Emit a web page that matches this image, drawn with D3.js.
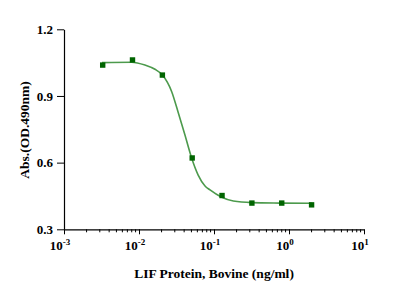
<!DOCTYPE html>
<html>
<head>
<meta charset="utf-8">
<script src="https://cdn.jsdelivr.net/npm/d3@7"></script>
<style>
  body { margin: 0; background: #fff; }
  text { font-family: "Liberation Serif", "Times New Roman", serif; font-weight: bold; fill: #000; }
</style>
</head>
<body>
<div id="chart"></div>
<script>
// measured points (ng/ml, absorbance)
var conc = [0.00328, 0.00819, 0.0205, 0.0512, 0.128, 0.32, 0.8, 2.0];
var absVal = [1.039, 1.062, 0.994, 0.621, 0.452, 0.418, 0.418, 0.410];

// fitted curve
var fitX = [0.00321, 0.0080, 0.0120, 0.0163, 0.0207, 0.0273, 0.0331, 0.0410, 0.0502,
            0.0615, 0.0759, 0.0885, 0.127, 0.181, 0.318, 0.759, 2.01];
var fitY = [1.050, 1.052, 1.039, 1.020, 0.993, 0.919, 0.829, 0.724, 0.622,
            0.544, 0.495, 0.477, 0.444, 0.427, 0.420, 0.418, 0.417];

var yTicks = [0.3, 0.6, 0.9, 1.2];
var xTicks = [1e-3, 1e-2, 1e-1, 1e0, 1e1];
var xTickExp = ["-3", "-2", "-1", "0", "1"];

var width = 401, height = 291;
var plotLeft = 64, plotRight = 364, plotTop = 29.3, plotBottom = 229.3;

var svg = d3.select("#chart").append("svg")
	.attr("width", width)
	.attr("height", height);

var x = d3.scaleLog().domain([1e-3, 1e1]).range([plotLeft, plotRight]);
var y = d3.scaleLinear().domain([0.3, 1.2]).range([plotBottom, plotTop]);

// y axis
var yAxis = svg.append("g")
	.attr("transform", "translate(" + plotLeft + ",0)")
	.call(d3.axisLeft(y).tickValues(yTicks).tickSize(7).tickSizeOuter(0).tickPadding(4)
		.tickFormat(d3.format(".1f")));
yAxis.selectAll("text").style("font-size", "13px");

// x axis with minor ticks
var minor = [];
for (var e = -3; e < 1; e++) {
	for (var m = 2; m <= 9; m++) minor.push(m * Math.pow(10, e));
}
var xg = svg.append("g").attr("transform", "translate(0," + plotBottom + ")");
xg.call(d3.axisBottom(x).tickValues(xTicks).tickSize(5).tickSizeOuter(0).tickFormat(""));
xg.selectAll(".minor").data(minor).enter().append("line")
	.attr("x1", function(d) { return x(d); })
	.attr("x2", function(d) { return x(d); })
	.attr("y1", 0).attr("y2", 3)
	.attr("stroke", "#000");
xg.selectAll(".xlab").data(xTicks).enter().append("text")
	.attr("x", function(d) { return x(d) - 4; })
	.attr("y", 21)
	.attr("text-anchor", "middle")
	.style("font-size", "13px")
	.each(function(d, i) {
		var t = d3.select(this);
		t.append("tspan").text("10");
		t.append("tspan").attr("dy", -5).style("font-size", "9px").text(xTickExp[i]);
	});
svg.selectAll(".domain").attr("stroke", "#000").attr("stroke-width", 1.2);
svg.selectAll(".tick line").attr("stroke", "#000");

// fitted curve
var line = d3.line()
	.x(function(d) { return x(d[0]); })
	.y(function(d) { return y(d[1]); })
	.curve(d3.curveMonotoneX);
svg.append("path")
	.datum(d3.zip(fitX, fitY))
	.attr("d", line)
	.attr("fill", "none")
	.attr("stroke", "#4c9a4c")
	.attr("stroke-width", 1.6);

// points
svg.selectAll(".pt").data(d3.zip(conc, absVal)).enter().append("rect")
	.attr("x", function(d) { return x(d[0]) - 2.7; })
	.attr("y", function(d) { return y(d[1]) - 2.7; })
	.attr("width", 5.4).attr("height", 5.4)
	.attr("fill", "#006400");

// axis titles
svg.append("text")
	.attr("x", 214).attr("y", 278)
	.attr("text-anchor", "middle")
	.style("font-size", "13.5px")
	.text("LIF Protein, Bovine (ng/ml)");
svg.append("text")
	.attr("transform", "translate(29,130) rotate(-90)")
	.attr("text-anchor", "middle")
	.style("font-size", "13.5px")
	.text("Abs.(OD.490nm)");
</script>
</body>
</html>
